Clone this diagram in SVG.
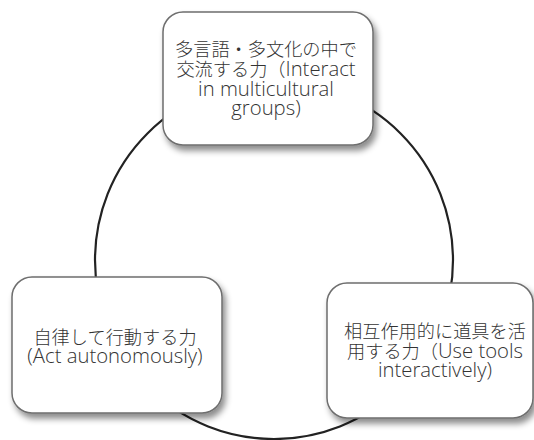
<svg xmlns="http://www.w3.org/2000/svg" width="534" height="440" viewBox="0 0 534 440">
<defs>
<filter id="sh" x="-10%" y="-10%" width="130%" height="135%">
<feDropShadow dx="3" dy="5" stdDeviation="3" flood-color="#000" flood-opacity="0.45"/>
</filter>
<style>
.box{fill:#fff;stroke:#6e6e6e;stroke-width:1.5;filter:url(#sh)}
.t{font-family:"Open Sans","Noto Sans CJK JP",sans-serif;font-size:18.2px;font-weight:300;fill:#333;text-anchor:middle}
.l{font-size:20.3px}
.c{fill:none;stroke:#222;stroke-width:2.2}
</style>
</defs>
<rect width="534" height="440" fill="#fff"/>
<g id="connectors">
<circle class="c" cx="274" cy="260" r="179"/>
</g>
<g id="node-top">
<rect class="box" x="163" y="12" width="210" height="133" rx="20"/>
<text class="t" x="266" y="56">多言語・多文化の中で</text>
<text class="t" x="266" y="76">交流する力（<tspan class="l">Interact</tspan></text>
<text class="t" x="266" y="96"><tspan class="l">in multicultural</tspan></text>
<text class="t" x="266" y="115"><tspan class="l">groups)</tspan></text>
</g>
<g id="node-left">
<rect class="box" x="12" y="277" width="210" height="136" rx="20"/>
<text class="t" x="115" y="344">自律して行動する力</text>
<text class="t" x="115" y="363"><tspan class="l">(Act autonomously)</tspan></text>
</g>
<g id="node-right">
<rect class="box" x="327" y="283" width="206" height="135" rx="20"/>
<text class="t" x="435" y="338">相互作用的に道具を活</text>
<text class="t" x="435" y="358">用する力（<tspan class="l">Use tools</tspan></text>
<text class="t" x="435" y="377"><tspan class="l">interactively)</tspan></text>
</g>
</svg>
